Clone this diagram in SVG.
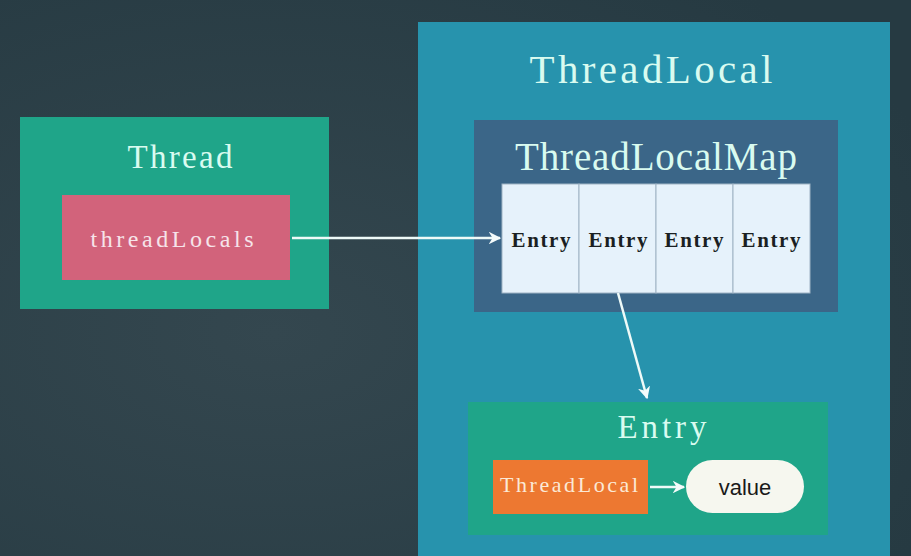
<svg xmlns="http://www.w3.org/2000/svg" width="911" height="556" viewBox="0 0 911 556">
<defs>
<style>
.mono{font-family:"Liberation Serif","DejaVu Serif",serif;}
.title{fill:#d9fbf0;text-anchor:middle;}
.cell{fill:#e6f2fb;stroke:#9fb3c4;stroke-width:1;}
.conn{stroke:#eefaf8;stroke-width:2.5;fill:none;marker-end:url(#ah);}
</style>
<marker id="ah" viewBox="0 0 10 10" refX="9" refY="5" markerWidth="5" markerHeight="5" orient="auto" markerUnits="strokeWidth">
<path d="M0,0 L10,5 L0,10 L3,5 Z" fill="#f4fbfb"/>
</marker>
<radialGradient id="bg" cx="0.3" cy="0.6" r="0.8">
<stop offset="0" stop-color="#34474f"/>
<stop offset="1" stop-color="#263a42"/>
</radialGradient>
</defs>
<rect width="911" height="556" fill="url(#bg)"/>
<g id="thread">
<rect x="20" y="117" width="309" height="192" fill="#1fa589"/>
<text class="mono title" x="180" y="168" font-size="33" textLength="105" lengthAdjust="spacing">Thread</text>
</g>
<g id="threadLocals">
<rect x="62" y="195" width="228" height="85" fill="#d2637b"/>
<text class="mono" x="172" y="247" font-size="24" fill="#f6e4ea" text-anchor="middle" textLength="163" lengthAdjust="spacing">threadLocals</text>
</g>
<g id="threadLocal">
<rect x="418" y="22" width="472" height="540" fill="#2793ad"/>
<text class="mono title" x="651" y="83" font-size="41" textLength="243" lengthAdjust="spacing">ThreadLocal</text>
</g>
<g id="threadLocalMap">
<rect x="474" y="120" width="364" height="192" fill="#3b6688"/>
<text class="mono title" x="656" y="170" font-size="39" textLength="282" lengthAdjust="spacing">ThreadLocalMap</text>
</g>
<g id="entries">
<rect class="cell" x="502" y="184" width="77" height="109"/>
<rect class="cell" x="579" y="184" width="77" height="109"/>
<rect class="cell" x="656" y="184" width="77" height="109"/>
<rect class="cell" x="733" y="184" width="77" height="109"/>
<g class="mono" font-size="21" font-weight="bold" fill="#1a1f22" text-anchor="middle">
<text x="541" y="247" textLength="59" lengthAdjust="spacing">Entry</text>
<text x="618" y="247" textLength="59" lengthAdjust="spacing">Entry</text>
<text x="694" y="247" textLength="59" lengthAdjust="spacing">Entry</text>
<text x="771" y="247" textLength="59" lengthAdjust="spacing">Entry</text>
</g>
</g>
<g id="entry">
<rect x="468" y="402" width="360" height="133" fill="#1fa589"/>
<text class="mono title" x="662" y="438" font-size="33" textLength="89" lengthAdjust="spacing">Entry</text>
</g>
<g id="entryKey">
<rect x="493" y="460" width="155" height="54" fill="#ed7831"/>
<text class="mono" x="569" y="492" font-size="22" fill="#fbe9d6" text-anchor="middle" textLength="138" lengthAdjust="spacing">ThreadLocal</text>
</g>
<g id="value">
<rect x="686" y="460" width="118" height="53" rx="26.5" fill="#f6f7ef"/>
<text x="745" y="495" font-family="Liberation Sans, Arial, sans-serif" font-size="22" fill="#1a1a1a" text-anchor="middle">value</text>
</g>
<g id="connectors">
<path class="conn" d="M292,238 L500,238"/>
<path class="conn" d="M618,293 L647,398"/>
<path class="conn" d="M650,487 L684,487"/>
</g>
</svg>
